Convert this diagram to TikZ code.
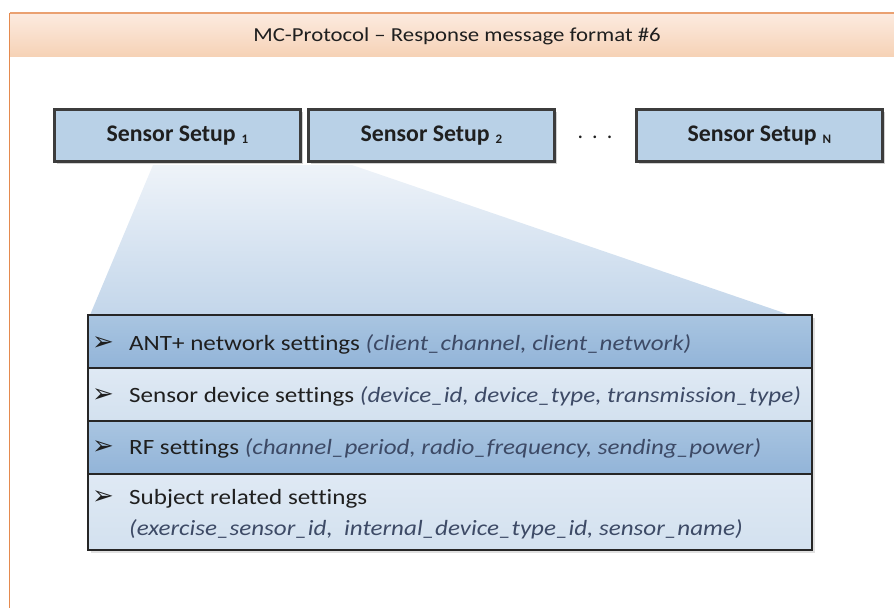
\documentclass[tikz,border=0pt]{standalone}
\usepackage{fontspec}
\setmainfont[Ligatures=NoCommon]{Carlito}
\newfontfamily\stretchfont[FakeStretch=1.15,Ligatures=NoCommon]{Carlito}
\newfontfamily\symfont{DejaVu Sans}
\usetikzlibrary{shadows}
\definecolor{orangeline}{HTML}{E58A4E}
\definecolor{titletop}{HTML}{FCEBE0}
\definecolor{titlebot}{HTML}{F6D2B6}
\definecolor{sfill}{HTML}{B9D1E7}
\definecolor{sborder}{HTML}{3C3C3C}
\definecolor{traptop}{HTML}{EEF3F9}
\definecolor{trapbot}{HTML}{C3D6EA}
\definecolor{darktop}{HTML}{A9C5E1}
\definecolor{darkbot}{HTML}{92B4D8}
\definecolor{lighttop}{HTML}{DFE9F4}
\definecolor{lightbot}{HTML}{D3E1EF}
\definecolor{txt}{HTML}{1F1F1F}
\definecolor{ital}{HTML}{3D4A66}
\newcommand{\bul}{\makebox[37pt][l]{\raisebox{0pt}{\symfont\fontsize{26}{26}\selectfont ➢}}}
\newcommand{\sub}[1]{\hspace{6pt}{\fontsize{13}{13}\selectfont\raisebox{-2.5pt}{#1}}}
\begin{document}
\begin{tikzpicture}[x=1pt,y=-1pt,
  sbox/.style={draw=sborder, line width=3pt, fill=sfill, minimum width=246pt, minimum height=52pt, inner sep=0pt,
    drop shadow={shadow xshift=2pt, shadow yshift=-2pt, fill=black, opacity=0.18},
    font=\fontsize{23.8}{28}\bfseries\selectfont, text=txt},
  rowbox/.style={draw=black!85, line width=1.2pt, minimum width=724pt, inner sep=0pt,
    drop shadow={shadow xshift=3pt, shadow yshift=-3pt, fill=black, opacity=0.12}},
  darkrow/.style={rowbox, top color=darktop, bottom color=darkbot},
  lightrow/.style={rowbox, top color=lighttop, bottom color=lightbot},
  rowtext/.style={anchor=base west, inner sep=0pt, text=txt, font=\stretchfont\fontsize{21.8}{26}\selectfont},
  dots/.style={inner sep=0pt, text=txt, font=\fontsize{22}{26}\selectfont}
]
\path[use as bounding box] (0,0) rectangle (894,608);
% title band
\shade[top color=titletop, bottom color=titlebot] (9.5,13) rectangle (894,56.5);
\draw[orangeline!80, line width=1.2pt] (9.5,13) -- (894,13);
\draw[orangeline, line width=1.2pt] (9.5,13) -- (9.5,608);
\node[inner sep=0pt, text=txt, font=\stretchfont\fontsize{19.8}{24}\selectfont] (title) at (457,36) {MC-Protocol – Response message format \#6};
% zoom trapezoid
\shade[top color=traptop, bottom color=trapbot] (153,165) -- (352,165) -- (790,315) -- (90,315) -- cycle;
% sensor setups
\node[sbox] (s1) at (177.5,135.5) {Sensor Setup\sub{1}};
\node[sbox] (s2) at (431.5,135.5) {Sensor Setup\sub{2}};
\node[sbox] (sN) at (759.5,135.5) {Sensor Setup\sub{N}};
\node[dots] (dd) at (595,137) {.\hspace{9pt}.\hspace{9pt}.};
% table
\node[darkrow, minimum height=53pt] (r1) at (450,341.5) {};
\node[lightrow, minimum height=53pt] (r2) at (450,394.5) {};
\node[darkrow, minimum height=53pt] (r3) at (450,447.5) {};
\node[lightrow, minimum height=76pt] (r4) at (450,512) {};
\node[rowtext] (t1) at (92,350) {\bul ANT+ network settings {\itshape\color{ital}(client\_channel, client\_network)}};
\node[rowtext] (t2) at (92,402) {\bul Sensor device settings {\itshape\color{ital}(device\_id, device\_type, transmission\_type)}};
\node[rowtext] (t3) at (92,454) {\bul RF settings {\itshape\color{ital}(channel\_period, radio\_frequency, sending\_power)}};
\node[rowtext] (t4) at (92,504) {\bul Subject related settings};
\node[rowtext] (t4b) at (129,535) {\itshape\color{ital}(exercise\_sensor\_id,\ \ internal\_device\_type\_id, sensor\_name)};
\end{tikzpicture}
\end{document}
